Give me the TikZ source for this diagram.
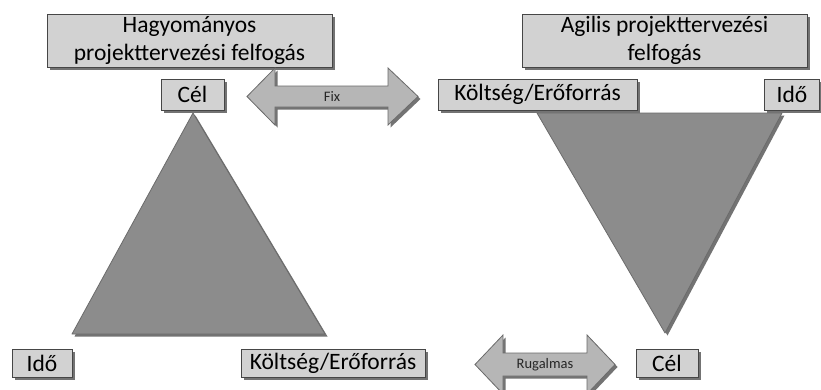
\documentclass[tikz,border=0pt]{standalone}
\usepackage{fontspec}
\setmainfont{Carlito}
\usetikzlibrary{shadows}
\definecolor{boxgray}{RGB}{210,210,210}
\definecolor{edgegray}{RGB}{70,70,70}
\definecolor{trigray}{RGB}{140,140,140}
\definecolor{arrowgray}{RGB}{182,182,182}

\begin{document}
\begin{tikzpicture}[x=1pt, y=-1pt,
  shade/.style={drop shadow={shadow xshift=2.5pt, shadow yshift=-2.5pt, fill=black!55, opacity=1}},
  lbl/.style={draw=edgegray, fill=boxgray, line width=0.8pt, inner sep=0pt, shade,
    font=\fontsize{23.5}{27.5}\selectfont, align=center},
  tri/.style={draw=edgegray!80, fill=trigray, line width=0.8pt, line join=round, shade},
  blk/.style={draw=edgegray!80, fill=arrowgray, line width=0.8pt, shade},
  small/.style={font=\fontsize{14.5}{16}\selectfont, text=black!85}]
  \useasboundingbox (0,0) rectangle (821,389);
  \fill[white] (0,0) rectangle (821,389);

  % titles
  \node[lbl, minimum width=285pt, minimum height=53pt] (trad) at (189.5,40.5)
    {Hagyományos\\projekttervezési felfogás};
  \node[lbl, minimum width=285pt, minimum height=53pt] (agile) at (664.5,40.5)
    {Agilis projekttervezési\\felfogás};

  % triangles
  \path[tri] (193,113) -- (325,334) -- (72,334) -- cycle;
  \path[tri] (537,113) -- (782,113) -- (665,333) -- cycle;

  % corner labels
  \node[lbl, minimum width=63pt, minimum height=31pt] (celT) at (192.5,94.5) {Cél};
  \node[lbl, minimum width=199pt, minimum height=31pt] (koltT) at (537.5,94.5) {Költség/Erőforrás};
  \node[lbl, minimum width=55pt, minimum height=31pt] (idoT) at (792,94.5) {Idő};
  \node[lbl, minimum width=60pt, minimum height=28pt] (idoB) at (42,363) {Idő};
  \node[lbl, minimum width=184pt, minimum height=28pt] (koltB) at (333,363) {Költség/Erőforrás};
  \node[lbl, minimum width=62pt, minimum height=28pt] (celB) at (667,363) {Cél};

  % block arrows
  \path[blk] (247,96.5) -- (275,68) -- (275,86) -- (388,86) -- (388,68) -- (418,96.5)
    -- (388,125) -- (388,107) -- (275,107) -- (275,125) -- cycle;
  \node[small] (fix) at (332,96.5) {Fix};
  \path[blk] (475,364.5) -- (503,335) -- (503,353) -- (587,353) -- (587,335) -- (615,364.5)
    -- (587,394) -- (587,376) -- (503,376) -- (503,394) -- cycle;
  \node[small] (rug) at (545,364.5) {Rugalmas};
\end{tikzpicture}
\end{document}
